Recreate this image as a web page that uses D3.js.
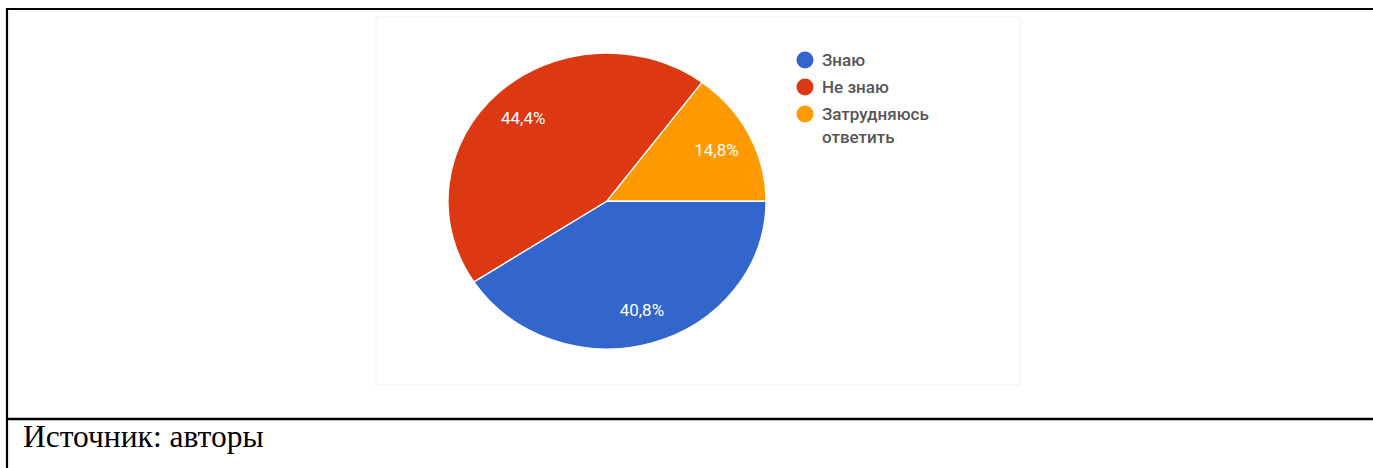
<!DOCTYPE html>
<html>
<head>
<meta charset="utf-8">
<script src="https://cdn.jsdelivr.net/npm/d3@7"></script>
<style>
  html, body { margin: 0; padding: 0; background: #fff; }
  svg { display: block; }
</style>
</head>
<body>
<svg id="chart" width="1373" height="468"></svg>
<script>
const categories = ["Знаю", "Не знаю", "Затрудняюсь ответить"];
const legendLines = [["Знаю"], ["Не знаю"], ["Затрудняюсь", "ответить"]];
const values = [40.8, 44.4, 14.8];
const valueLabels = ["40,8%", "44,4%", "14,8%"];
const colors = ["#3366cc", "#dc3912", "#ff9900"];
const caption = "Источник: авторы";

const svg = d3.select("#chart");
const W = 1373, H = 468;

// table frame
svg.append("line").attr("x1", 7).attr("x2", W).attr("y1", 9).attr("y2", 9)
  .attr("stroke", "#000").attr("stroke-width", 2.2);
svg.append("line").attr("x1", 7).attr("x2", 7).attr("y1", 8).attr("y2", H)
  .attr("stroke", "#000").attr("stroke-width", 2.2);
svg.append("line").attr("x1", 7).attr("x2", W).attr("y1", 419).attr("y2", 419)
  .attr("stroke", "#000").attr("stroke-width", 2.5);

// faint screenshot frame
svg.append("rect").attr("x", 376).attr("y", 17).attr("width", 644).attr("height", 368)
  .attr("fill", "none").attr("stroke", "#f8f8f8").attr("stroke-width", 2);

// pie
const cx = 607, cy = 201, rx = 159, ry = 148;
const pie = d3.pie().sort(null).value(d => d)
  .startAngle(Math.PI / 2).endAngle(Math.PI / 2 + 2 * Math.PI);
const arcs = pie(values);
const arc = d3.arc().innerRadius(0).outerRadius(ry);

const g = svg.append("g").attr("transform", `translate(${cx},${cy}) scale(${rx / ry},1)`);
g.selectAll("path").data(arcs).join("path")
  .attr("d", arc)
  .attr("fill", (d, i) => colors[i])
  .attr("stroke", "#fff")
  .attr("stroke-width", 1.3)
  .attr("vector-effect", "non-scaling-stroke");

// labels
const labelK = 0.77;
svg.append("g").selectAll("text").data(arcs).join("text")
  .attr("x", d => cx + Math.sin((d.startAngle + d.endAngle) / 2) * rx * labelK)
  .attr("y", d => cy - Math.cos((d.startAngle + d.endAngle) / 2) * ry * labelK)
  .attr("text-anchor", "middle")
  .attr("dominant-baseline", "central")
  .attr("fill", "#fff")
  .attr("font-family", "Roboto, Arial, sans-serif")
  .attr("font-size", 17)
  .text((d, i) => valueLabels[i]);

// legend
const legendY = [60, 87, 114];
const lg = svg.append("g");
categories.forEach((c, i) => {
  lg.append("circle").attr("cx", 805).attr("cy", legendY[i]).attr("r", 8.5).attr("fill", colors[i]);
  legendLines[i].forEach((t, j) => {
    lg.append("text")
      .attr("x", 822).attr("y", legendY[i] + j * 23)
      .attr("dominant-baseline", "central")
      .attr("fill", "#555")
      .attr("font-family", "Roboto, Arial, sans-serif")
      .attr("font-weight", 500)
      .attr("font-size", 17)
      .text(t);
  });
});

// caption
svg.append("text").attr("x", 23).attr("y", 447)
  .attr("font-family", "'Liberation Serif', 'Times New Roman', serif")
  .attr("font-size", 31.5)
  .attr("fill", "#000")
  .text(caption);
</script>
</body>
</html>
